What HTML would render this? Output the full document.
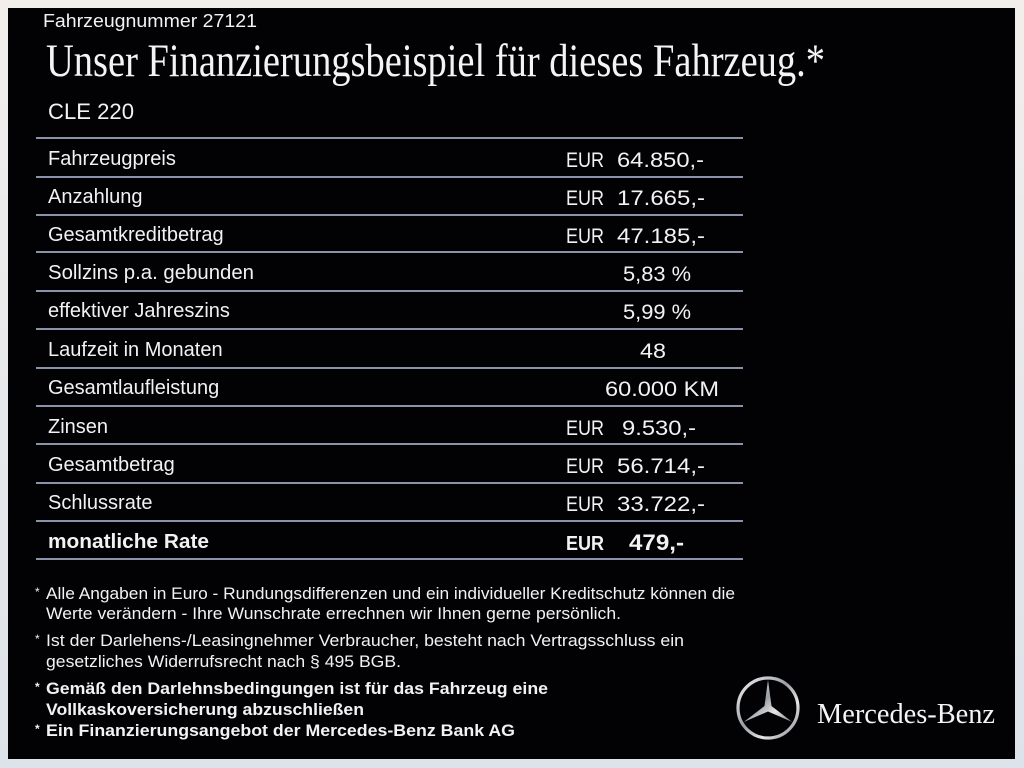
<!DOCTYPE html>
<html>
<head>
<meta charset="utf-8">
<style>
html,body{margin:0;padding:0;background:#e3e7ed;width:1024px;height:768px;overflow:hidden;}
svg{display:block;}
.s{font-family:"Liberation Sans",Arial,sans-serif;fill:#f2f2f2;}
.sf{font-family:"Liberation Serif","Times New Roman",serif;fill:#f4f4f4;}
</style>
</head>
<body>
<svg width="1024" height="768" viewBox="0 0 1024 768" xmlns="http://www.w3.org/2000/svg">
<defs>
<linearGradient id="bg" x1="0" y1="0" x2="0" y2="1">
<stop offset="0" stop-color="#f2eeec"/>
<stop offset="1" stop-color="#dde3ea"/>
</linearGradient>
<linearGradient id="silver" x1="0" y1="0" x2="1" y2="1">
<stop offset="0" stop-color="#f4f4f4"/>
<stop offset="0.45" stop-color="#9a9ea4"/>
<stop offset="0.7" stop-color="#e6e6e6"/>
<stop offset="1" stop-color="#7d8188"/>
</linearGradient>
</defs>
<rect x="0" y="0" width="1024" height="768" fill="url(#bg)"/>
<rect x="8" y="8" width="1007" height="751" fill="#020204"/>

<text class="s" x="43" y="27" font-size="18" textLength="214" lengthAdjust="spacingAndGlyphs">Fahrzeugnummer  27121</text>
<text class="sf" x="46" y="76" font-size="47" textLength="779" lengthAdjust="spacingAndGlyphs">Unser Finanzierungsbeispiel für dieses Fahrzeug.*</text>
<text class="s" x="48" y="119" font-size="22" textLength="86" lengthAdjust="spacingAndGlyphs">CLE 220</text>

<g stroke="#8a93a8" stroke-width="2">
<line x1="36" y1="138" x2="743" y2="138"/>
<line x1="36" y1="177" x2="743" y2="177"/>
<line x1="36" y1="215" x2="743" y2="215"/>
<line x1="36" y1="252" x2="743" y2="252"/>
<line x1="36" y1="291" x2="743" y2="291"/>
<line x1="36" y1="329" x2="743" y2="329"/>
<line x1="36" y1="368" x2="743" y2="368"/>
<line x1="36" y1="406" x2="743" y2="406"/>
<line x1="36" y1="444" x2="743" y2="444"/>
<line x1="36" y1="483" x2="743" y2="483"/>
<line x1="36" y1="521" x2="743" y2="521"/>
<line x1="36" y1="559" x2="743" y2="559"/>
</g>

<g class="s" font-size="20">
<text x="48" y="165">Fahrzeugpreis</text>
<text x="48" y="203">Anzahlung</text>
<text x="48" y="241">Gesamtkreditbetrag</text>
<text x="48" y="279" textLength="206" lengthAdjust="spacingAndGlyphs">Sollzins p.a. gebunden</text>
<text x="48" y="317">effektiver Jahreszins</text>
<text x="48" y="356">Laufzeit in Monaten</text>
<text x="48" y="394">Gesamtlaufleistung</text>
<text x="48" y="433">Zinsen</text>
<text x="48" y="471">Gesamtbetrag</text>
<text x="48" y="509">Schlussrate</text>
<text x="48" y="548" font-weight="bold" textLength="161" lengthAdjust="spacingAndGlyphs">monatliche Rate</text>
</g>

<g class="s" font-size="21">
<text x="566" y="167" textLength="38" lengthAdjust="spacingAndGlyphs">EUR</text>
<text x="617" y="167" textLength="87" lengthAdjust="spacingAndGlyphs">64.850,-</text>
<text x="566" y="205" textLength="38" lengthAdjust="spacingAndGlyphs">EUR</text>
<text x="617" y="205" textLength="88" lengthAdjust="spacingAndGlyphs">17.665,-</text>
<text x="566" y="243" textLength="38" lengthAdjust="spacingAndGlyphs">EUR</text>
<text x="617" y="243" textLength="88" lengthAdjust="spacingAndGlyphs">47.185,-</text>
<text x="623" y="281" textLength="68" lengthAdjust="spacingAndGlyphs">5,83 %</text>
<text x="623" y="319" textLength="68" lengthAdjust="spacingAndGlyphs">5,99 %</text>
<text x="640" y="358" textLength="26" lengthAdjust="spacingAndGlyphs">48</text>
<text x="605" y="396" textLength="114" lengthAdjust="spacingAndGlyphs">60.000 KM</text>
<text x="566" y="435" textLength="38" lengthAdjust="spacingAndGlyphs">EUR</text>
<text x="622" y="435" textLength="74" lengthAdjust="spacingAndGlyphs">9.530,-</text>
<text x="566" y="473" textLength="38" lengthAdjust="spacingAndGlyphs">EUR</text>
<text x="617" y="473" textLength="88" lengthAdjust="spacingAndGlyphs">56.714,-</text>
<text x="566" y="511" textLength="38" lengthAdjust="spacingAndGlyphs">EUR</text>
<text x="617" y="511" textLength="88" lengthAdjust="spacingAndGlyphs">33.722,-</text>
<text x="566" y="550" font-weight="bold" font-size="20" textLength="38" lengthAdjust="spacingAndGlyphs">EUR</text>
<text x="629" y="550" font-weight="bold" font-size="22" textLength="55" lengthAdjust="spacingAndGlyphs">479,-</text>
</g>

<g class="s" font-size="16.5">
<text x="35" y="596" font-size="12">*</text>
<text x="46" y="599" textLength="689" lengthAdjust="spacingAndGlyphs">Alle Angaben in Euro - Rundungsdifferenzen und ein individueller Kreditschutz können die</text>
<text x="46" y="619" textLength="575" lengthAdjust="spacingAndGlyphs">Werte verändern - Ihre Wunschrate errechnen wir Ihnen gerne persönlich.</text>
<text x="35" y="643" font-size="12">*</text>
<text x="46" y="646" textLength="638" lengthAdjust="spacingAndGlyphs">Ist der Darlehens-/Leasingnehmer Verbraucher, besteht nach Vertragsschluss ein</text>
<text x="46" y="667" textLength="355" lengthAdjust="spacingAndGlyphs">gesetzliches  Widerrufsrecht nach § 495 BGB.</text>
<text x="35" y="691" font-size="12" font-weight="bold">*</text>
<text x="46" y="694" font-weight="bold" textLength="502" lengthAdjust="spacingAndGlyphs">Gemäß den Darlehnsbedingungen ist für das Fahrzeug eine</text>
<text x="46" y="715" font-weight="bold" textLength="318" lengthAdjust="spacingAndGlyphs">Vollkaskoversicherung abzuschließen</text>
<text x="35" y="733" font-size="12" font-weight="bold">*</text>
<text x="46" y="736" font-weight="bold" textLength="469" lengthAdjust="spacingAndGlyphs">Ein Finanzierungsangebot der Mercedes-Benz Bank AG</text>
</g>

<g>
<circle cx="768" cy="708" r="30" fill="none" stroke="url(#silver)" stroke-width="3.2"/>
<polygon points="768,680 771.5,706 792.2,722 768,711.5 743.8,722 764.5,706" fill="url(#silver)"/>
</g>
<text class="sf" x="817" y="723" font-size="29" textLength="178" lengthAdjust="spacingAndGlyphs">Mercedes-Benz</text>
</svg>
</body>
</html>
